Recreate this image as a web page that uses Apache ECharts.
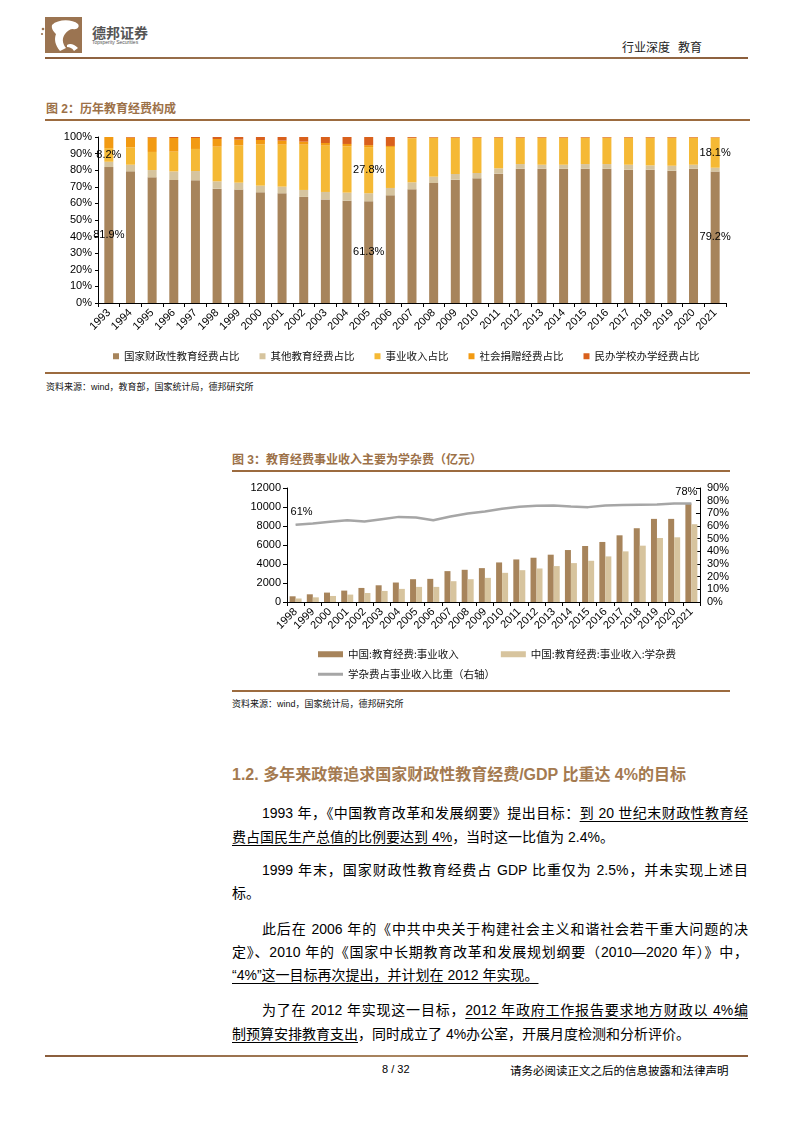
<!DOCTYPE html>
<html><head><meta charset="utf-8">
<script src="https://cdn.jsdelivr.net/npm/echarts@6/dist/echarts.min.js"></script>
<style>
body{margin:0;width:794px;height:1123px;position:relative;background:#fff;font-family:"Liberation Sans","Noto Sans CJK SC",sans-serif;overflow:hidden}
.rule{position:absolute;height:2px;background:#9C6B3F}
.ftitle{position:absolute;font-size:12px;font-weight:bold;color:#9C7148;line-height:14px;white-space:nowrap}
.src{position:absolute;font-size:9px;color:#111;white-space:nowrap;line-height:12px}
.ln{position:absolute;font-size:14px;line-height:20px;height:20px;color:#000;white-space:nowrap}
.full{left:232px;width:516px}
.ind{left:262px;width:486px}
.j{text-align:justify;text-align-last:justify;white-space:normal}
u{text-decoration:underline;text-underline-offset:3px}
</style></head><body>

<!-- header -->
<svg style="position:absolute;left:40px;top:15px" width="50" height="42" viewBox="0 0 50 42">
  <rect x="5" y="2" width="37" height="36" fill="#9B7451"/>
  <path d="M12 10 C18 4, 32 4, 38 9 C40 12, 37 15, 33 14 C30 14, 27 16, 25 19 C22 23, 22 28, 26 33 L20 36 C15 30, 14 24, 16 19 C14 17, 11 14, 12 10 Z" fill="#fff"/>
  <path d="M27 30 C30 28, 34 29, 38 33 L34 36 C32 33, 30 32, 27 32 Z" fill="#fff"/>
  <circle cx="3" cy="14" r="1.3" fill="#9B7451"/><circle cx="2" cy="19" r="1.1" fill="#9B7451"/>
</svg>
<div style="position:absolute;left:92px;top:22px;font-size:14px;font-weight:bold;color:#555;font-family:'Noto Sans CJK SC'">德邦证券</div>
<div style="position:absolute;left:92px;top:39px;font-size:5px;color:#555">Topsperity Securities</div>
<div style="position:absolute;left:622px;top:38px;font-size:12px;color:#222;font-family:'Noto Sans CJK SC';white-space:nowrap">行业深度&nbsp;&nbsp;&nbsp;教育</div>
<div class="rule" style="left:45px;top:57px;width:703px;background:linear-gradient(90deg,#8B5E3C,#A98560,#8B5E3C)"></div>

<!-- figure 2 -->
<div class="ftitle" style="left:46px;top:102px">图 2：历年教育经费构成</div>
<div class="rule" style="left:45px;top:119px;width:705px"></div>
<div id="c1" style="position:absolute;left:40px;top:125px;width:720px;height:245px"></div>
<div class="rule" style="left:45px;top:372px;width:705px"></div>
<div class="src" style="left:46px;top:381px">资料来源：wind，教育部，国家统计局，德邦研究所</div>

<!-- figure 3 -->
<div class="ftitle" style="left:232px;top:453px">图 3：教育经费事业收入主要为学杂费（亿元）</div>
<div class="rule" style="left:232px;top:470px;width:498px"></div>
<div id="c2" style="position:absolute;left:232px;top:475px;width:500px;height:213px"></div>
<div class="rule" style="left:232px;top:690px;width:498px"></div>
<div class="src" style="left:232px;top:698px">资料来源：wind，国家统计局，德邦研究所</div>

<!-- text -->
<div style="position:absolute;left:232px;top:764px;font-size:16px;font-weight:bold;color:#A47A50;white-space:nowrap;line-height:22px">1.2. 多年来政策追求国家财政性教育经费/GDP 比重达 4%的目标</div>

<div class="ln ind j" style="top:803px">1993 年，《中国教育改革和发展纲要》提出目标：<u>到 20 世纪末财政性教育经</u></div>
<div class="ln full" style="top:827px"><u>费占国民生产总值的比例要达到 4%</u>，当时这一比值为 2.4%。</div>

<div class="ln ind j" style="top:860px">1999 年末，国家财政性教育经费占 GDP 比重仅为 2.5%，并未实现上述目</div>
<div class="ln full" style="top:883px">标。</div>

<div class="ln ind j" style="top:919px">此后在 2006 年的《中共中央关于构建社会主义和谐社会若干重大问题的决</div>
<div class="ln full j" style="top:942px">定》、2010 年的《国家中长期教育改革和发展规划纲要（2010—2020 年）》中，</div>
<div class="ln full" style="top:965px"><u>“4%”这一目标再次提出，并计划在 2012 年实现。</u></div>

<div class="ln ind j" style="top:1000px">为了在 2012 年实现这一目标，<u>2012 年政府工作报告要求地方财政以 4%编</u></div>
<div class="ln full" style="top:1024px"><u>制预算安排教育支出</u>，同时成立了 4%办公室，开展月度检测和分析评价。</div>

<!-- footer -->
<div class="rule" style="left:45px;top:1055px;width:703px;background:linear-gradient(90deg,#8B5E3C,#A98560,#8B5E3C)"></div>
<div style="position:absolute;left:382px;top:1063px;font-size:11px;color:#000">8 / 32</div>
<div style="position:absolute;left:510px;top:1062px;font-size:11.5px;color:#000;font-family:'Noto Sans CJK SC';white-space:nowrap">请务必阅读正文之后的信息披露和法律声明</div>

<script>
const FF = 'Liberation Sans, Noto Sans CJK SC, sans-serif';
const CJK = 'Noto Sans CJK SC, sans-serif';

// ---- Figure 2 data (percent shares) ----
const years1 = ['1993','1994','1995','1996','1997','1998','1999','2000','2001','2002','2003','2004','2005','2006','2007','2008','2009','2010','2011','2012','2013','2014','2015','2016','2017','2018','2019','2020','2021'];
const govShare      = [81.9,79.3,75.7,74.1,73.9,68.9,68.3,66.7,66.1,63.9,62.4,61.6,61.3,64.9,68.5,72.3,74.3,75.1,77.9,80.9,80.9,80.9,80.9,80.9,80.3,80.3,79.7,80.9,79.2];
const otherShare    = [3.2,4.0,4.4,5.2,5.6,4.4,4.2,4.0,4.0,4.2,4.5,4.9,4.8,4.4,4.2,3.8,3.4,3.2,3.2,2.8,2.4,2.4,2.8,2.8,3.0,2.6,3.0,2.4,2.3];
const bizShare      = [8.2,10.5,10.9,11.9,13.3,20.9,22.5,24.9,25.3,27.3,27.9,27.9,27.8,24.7,26.5,23.3,21.7,21.1,18.3,15.7,16.1,16.1,15.7,15.7,16.1,16.5,16.7,16.1,18.1];
const donationShare = [6.7,5.8,8.6,8.2,6.6,4.6,3.4,2.6,2.4,1.8,1.6,1.4,1.2,0.6,0.3,0.3,0.3,0.3,0.3,0.3,0.3,0.3,0.3,0.3,0.3,0.3,0.3,0.3,0.2];
const privateShare  = [0,0.4,0.4,0.6,0.6,1.2,1.6,1.8,2.2,2.8,3.6,4.2,4.9,5.4,0.5,0.3,0.3,0.3,0.3,0.3,0.3,0.3,0.3,0.3,0.3,0.3,0.3,0.3,0.2];
const labelYears1 = ['1993','2005','2021'];
const names1 = ['国家财政性教育经费占比','其他教育经费占比','事业收入占比','社会捐赠经费占比','民办学校办学经费占比'];

// ---- Figure 3 data ----
const years2 = ['1998','1999','2000','2001','2002','2003','2004','2005','2006','2007','2008','2009','2010','2011','2012','2013','2014','2015','2016','2017','2018','2019','2020','2021'];
const bizIncome = [600,810,990,1200,1480,1760,2050,2400,2435,3250,3390,3565,4165,4480,4660,4980,5470,5895,6320,7020,7765,8750,8750,10340];
const tuitionFee = [370,490,635,780,950,1165,1380,1590,1590,2190,2400,2540,3070,3350,3530,3780,4095,4340,4800,5330,5930,6740,6810,8190];
const tuitionRatio = [60.9,61.9,63.3,64.6,63.5,65.4,67.2,66.7,64.6,67.5,69.9,71.5,73.6,75.2,76.0,76.2,75.4,74.9,76.2,76.5,76.8,77.0,77.8,77.8];
const names2 = ['中国:教育经费:事业收入','中国:教育经费:事业收入:学杂费','学杂费占事业收入比重（右轴）'];

const colors1 = ['#A7845B','#D6C49E','#F5B935','#F29A12','#D9601C'];

function withLabels(arr){
  return arr.map((v,i)=> labelYears1.includes(years1[i]) ? {value:v,label:{show:true}} : v);
}
const shareArrays = [govShare, otherShare, bizShare, donationShare, privateShare];
const c1 = echarts.init(document.getElementById('c1'), null, {renderer:'canvas'});
c1.setOption({
  animation:false,
  textStyle:{fontFamily:FF},
  grid:{left:58,top:12,width:628,height:166},
  legend:{left:68,top:221,icon:'rect',itemWidth:6,itemHeight:6,itemGap:20,
    textStyle:{fontSize:10.5,color:'#111',fontFamily:CJK},data:names1},
  xAxis:{type:'category',data:years1,
    axisLine:{lineStyle:{color:'#000',width:1}},
    axisTick:{show:true,length:4,lineStyle:{color:'#000'}},
    axisLabel:{rotate:45,interval:0,fontSize:11,color:'#000',margin:8,fontFamily:FF}},
  yAxis:{type:'value',min:0,max:100,interval:10,
    axisLine:{show:true,lineStyle:{color:'#000'}},
    axisTick:{show:true,length:3,lineStyle:{color:'#000'}},
    splitLine:{show:false},
    axisLabel:{formatter:'{value}%',fontSize:11,color:'#000',margin:6,fontFamily:FF}},
  series: shareArrays.map((arr,k)=>({
    name:names1[k],type:'bar',stack:'s',barWidth:9,
    itemStyle:{color:colors1[k]},
    label:{show:false,position:'inside',formatter:'{c}%',color:'#000',fontSize:11,fontFamily:FF},
    data:(k===0||k===2)?withLabels(arr):arr
  }))
});

const pctLabel = p => Math.round(p.value) + '%';
const c2 = echarts.init(document.getElementById('c2'), null, {renderer:'canvas'});
c2.setOption({
  animation:false,
  textStyle:{fontFamily:FF},
  grid:{left:55,top:13,width:415,height:114},
  legend:[
    {left:81,top:169,itemWidth:25,itemHeight:6,itemGap:42,icon:'rect',
     textStyle:{fontSize:10.5,color:'#111',fontFamily:CJK},data:[names2[0],names2[1]]},
    {left:81,top:189,itemWidth:25,itemHeight:3,
     textStyle:{fontSize:10.5,color:'#111',fontFamily:CJK},
     data:[{name:names2[2],icon:'rect',itemStyle:{color:'#A6A6A6',opacity:1}}]}
  ],
  xAxis:{type:'category',data:years2,
    axisLine:{lineStyle:{color:'#000'}},
    axisTick:{show:true,length:4,lineStyle:{color:'#000'}},
    axisLabel:{rotate:45,interval:0,fontSize:11,color:'#000',margin:8,fontFamily:FF}},
  yAxis:[
    {type:'value',min:0,max:12000,interval:2000,
     axisLine:{show:true,lineStyle:{color:'#000'}},
     axisTick:{show:true,length:4,lineStyle:{color:'#000'}},
     splitLine:{show:false},
     axisLabel:{formatter:v=>String(v),fontSize:11,color:'#000',margin:6,fontFamily:FF}},
    {type:'value',min:0,max:90,interval:10,position:'right',alignTicks:false,
     axisLine:{show:true,lineStyle:{color:'#000'}},
     axisTick:{show:true,inside:true,length:4,lineStyle:{color:'#000'}},
     splitLine:{show:false},
     axisLabel:{formatter:'{value}%',fontSize:11,color:'#000',margin:7,fontFamily:FF}}
  ],
  series:[
    {name:names2[0],type:'bar',barWidth:6,barGap:'0%',itemStyle:{color:'#A7845B'},data:bizIncome},
    {name:names2[1],type:'bar',barWidth:6,barGap:'0%',itemStyle:{color:'#D7C49E'},data:tuitionFee},
    {name:names2[2],type:'line',yAxisIndex:1,symbol:'circle',symbolSize:0.5,showSymbol:true,
     lineStyle:{color:'#A6A6A6',width:2.5},itemStyle:{color:'#A6A6A6'},
     label:{show:false,color:'#000',fontSize:11,fontFamily:FF,formatter:pctLabel},
     data:tuitionRatio.map((v,i)=>{
       if(i===0) return {value:v,label:{show:true,position:'top',offset:[6,-2]}};
       if(i===tuitionRatio.length-1) return {value:v,label:{show:true,position:'top',offset:[-5,-1]}};
       return v;
     })}
  ]
});
</script>
</body></html>
